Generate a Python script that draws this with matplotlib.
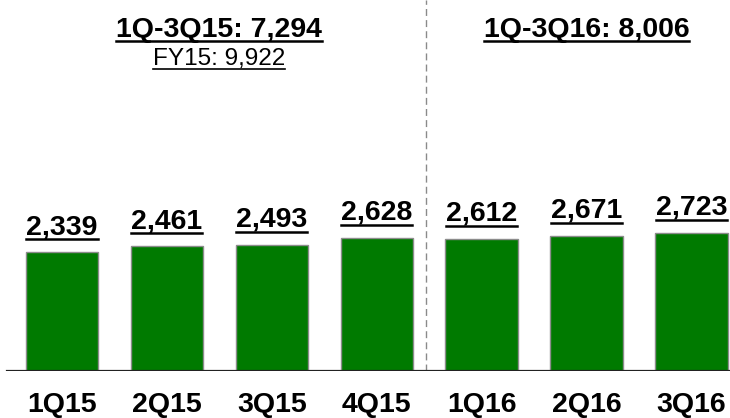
import matplotlib
matplotlib.use("Agg")
import matplotlib.pyplot as plt
from matplotlib.lines import Line2D
from matplotlib.transforms import ScaledTranslation

plt.rcParams['font.family'] = ['Liberation Sans', 'DejaVu Sans']

quarters = ['1Q15', '2Q15', '3Q15', '4Q15', '1Q16', '2Q16', '3Q16']
values = [2339, 2461, 2493, 2628, 2612, 2671, 2723]
value_labels = ['2,339', '2,461', '2,493', '2,628', '2,612', '2,671', '2,723']
group_titles = ['1Q-3Q15: 7,294', '1Q-3Q16: 8,006']
group_spans = [(0, 3), (4, 6)]
fy_note = 'FY15: 9,922'

W, H, DPI = 730, 418, 100
fig = plt.figure(figsize=(W / DPI, H / DPI), dpi=DPI)
base_px = 371  # baseline, px from top
ax = fig.add_axes([0, (H - base_px) / H, 1, base_px / H])
ax.axis('off')

spacing = 104.9
x0 = 62
ax.set_xlim(-x0 / spacing, (W - x0) / spacing)
ax.set_ylim(0, base_px / 0.0507)

xs = list(range(len(quarters)))
ax.bar(xs, values, width=0.69, color='#007a00', edgecolor='#8c8c8c', linewidth=1.0, zorder=2)
ax.axhline(0, xmin=7 / W, xmax=1, color='#222222', linewidth=1.6, zorder=3)
ax.axvline(3.47, ymin=0, ymax=1, color='#8a8a8a', linewidth=1.0, linestyle=(0, (5, 3)), zorder=1)

fig.canvas.draw()
renderer = fig.canvas.get_renderer()


def underline(t, gap, lw):
    bb = t.get_window_extent(renderer)
    # baseline in display coords
    _, by = t.get_transform().transform(t.get_position())
    y = by - gap
    fig.add_artist(Line2D([bb.x0, bb.x1], [y, y], transform=None, color='black', linewidth=lw))


# value labels above the bars
up = ScaledTranslation(0, 18 / DPI, fig.dpi_scale_trans)
for x, v, lab in zip(xs, values, value_labels):
    t = ax.text(x, v, lab, ha='center', va='baseline', fontsize=20.5, fontweight='bold',
                transform=ax.transData + up)
    underline(t, 5, 1.8)

# category labels
down = ScaledTranslation(0, -41 / DPI, fig.dpi_scale_trans)
for x, q in zip(xs, quarters):
    ax.text(x, 0, q, ha='center', va='baseline', fontsize=20.5, fontweight='bold',
            transform=ax.transData + down)

# group headers
for (a, b), title in zip(group_spans, group_titles):
    cx = (a + b) / 2
    xd, _ = ax.transData.transform((cx, 0))
    t = fig.text(xd / W, (H - 37) / H, title, ha='center', va='baseline', fontsize=20.5, fontweight='bold')
    underline(t, 4, 1.8)

xd, _ = ax.transData.transform((1.5, 0))
t = fig.text(xd / W, (H - 65) / H, fy_note, ha='center', va='baseline', fontsize=17.5)
underline(t, 4, 1.2)

fig.savefig('out.png', dpi=DPI)
